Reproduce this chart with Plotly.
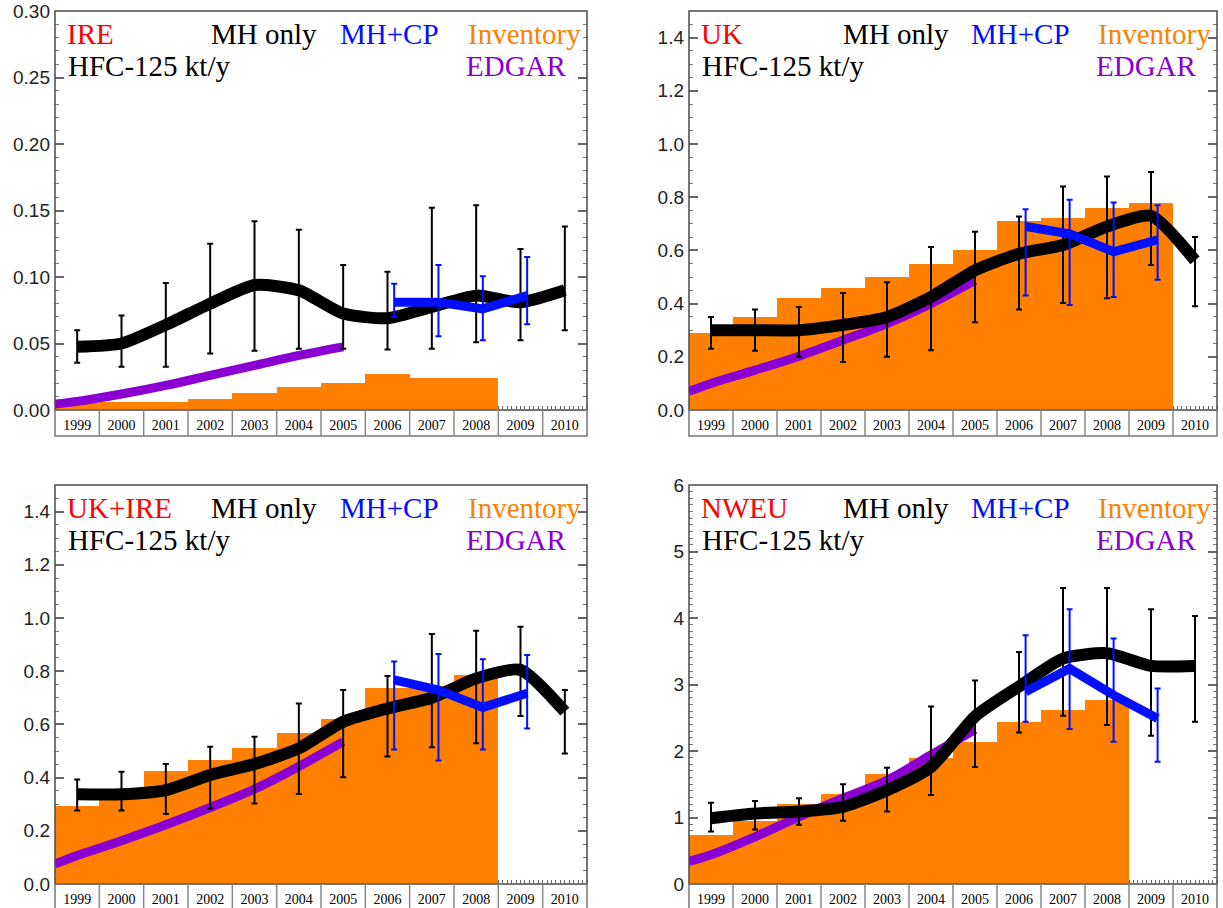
import plotly.graph_objects as go

W, H = 1223, 908

# ---- shared axes data ----
years = list(range(1999, 2011))
year_labels = [str(y) for y in years]
cp_years = [2006, 2007, 2008, 2009]
edgar_years = [1998.5, 1999, 2000, 2001, 2002, 2003, 2004, 2005]

# ---- IRE ----
ire_mh = [0.0475, 0.050, 0.064, 0.080, 0.094, 0.090, 0.0725, 0.069, 0.0775, 0.086, 0.081, 0.090]
ire_mh_hi = [0.060, 0.071, 0.0955, 0.125, 0.142, 0.1355, 0.109, 0.104, 0.152, 0.154, 0.121, 0.138]
ire_mh_lo = [0.0355, 0.0325, 0.0325, 0.0425, 0.0445, 0.046, 0.046, 0.0455, 0.046, 0.051, 0.0525, 0.060]
ire_cp = [0.081, 0.081, 0.076, 0.086]
ire_cp_hi = [0.095, 0.109, 0.1005, 0.115]
ire_cp_lo = [0.070, 0.0555, 0.0525, 0.0645]
ire_inv = [0.005, 0.006, 0.006, 0.008, 0.0125, 0.0175, 0.020, 0.027, 0.0243, 0.0238]
ire_edgar = [0.0045, 0.0065, 0.012, 0.0185, 0.026, 0.0335, 0.041, 0.0475]

# ---- UK ----
uk_mh = [0.30, 0.30, 0.30, 0.32, 0.35, 0.425, 0.525, 0.5875, 0.62, 0.69, 0.73, 0.5625]
uk_mh_hi = [0.35, 0.3775, 0.3875, 0.44, 0.48, 0.6125, 0.67, 0.7275, 0.84, 0.8775, 0.895, 0.65]
uk_mh_lo = [0.23, 0.2225, 0.20, 0.18, 0.20, 0.225, 0.33, 0.3775, 0.4025, 0.42, 0.545, 0.39]
uk_cp = [0.69, 0.6625, 0.595, 0.64]
uk_cp_hi = [0.755, 0.79, 0.78, 0.77]
uk_cp_lo = [0.43, 0.395, 0.425, 0.49]
uk_inv = [0.29, 0.35, 0.42, 0.46, 0.50, 0.55, 0.60, 0.71, 0.72, 0.76, 0.78]
uk_edgar = [0.07, 0.10, 0.15, 0.2025, 0.2625, 0.325, 0.40, 0.4875]

# ---- UK+IRE ----
ukire_mh = [0.337, 0.337, 0.353, 0.41, 0.451, 0.51, 0.61, 0.66, 0.70, 0.773, 0.805, 0.648]
ukire_mh_hi = [0.393, 0.422, 0.451, 0.516, 0.554, 0.679, 0.729, 0.782, 0.94, 0.952, 0.967, 0.729]
ukire_mh_lo = [0.276, 0.276, 0.263, 0.284, 0.303, 0.338, 0.401, 0.479, 0.514, 0.529, 0.632, 0.491]
ukire_cp = [0.767, 0.729, 0.664, 0.717]
ukire_cp_hi = [0.836, 0.865, 0.845, 0.861]
ukire_cp_lo = [0.506, 0.464, 0.506, 0.585]
ukire_inv = [0.295, 0.356, 0.426, 0.468, 0.5125, 0.5675, 0.62, 0.737, 0.744, 0.784]
ukire_edgar = [0.075, 0.107, 0.1625, 0.2225, 0.2875, 0.357, 0.442, 0.535]

# ---- NWEU ----
nweu_mh = [0.99, 1.06, 1.09, 1.16, 1.41, 1.76, 2.52, 2.97, 3.39, 3.47, 3.28, 3.28]
nweu_mh_hi = [1.22, 1.25, 1.29, 1.50, 1.75, 2.67, 3.06, 3.49, 4.45, 4.45, 4.13, 4.03]
nweu_mh_lo = [0.79, 0.82, 0.89, 0.95, 1.09, 1.34, 1.76, 2.28, 2.53, 2.39, 2.23, 2.44]
nweu_cp = [2.89, 3.24, 2.84, 2.49]
nweu_cp_hi = [3.74, 4.13, 3.69, 2.94]
nweu_cp_lo = [2.44, 2.33, 2.14, 1.84]
nweu_inv = [0.74, 0.94, 1.20, 1.36, 1.65, 1.90, 2.13, 2.44, 2.61, 2.77]
nweu_edgar = [0.34, 0.44, 0.71, 1.01, 1.29, 1.56, 1.94, 2.32]

ORANGE = "#FF8000"
PURPLE = "#8A00D2"
BLUE = "#0010FF"
RED = "#FF0000"
FRAME = "#4a4a4a"

# panel: name, data, y range, major step, minor step, tick format, pixel box (left, top, right, bottom)
panels = [
    dict(name="IRE", mh=ire_mh, hi=ire_mh_hi, lo=ire_mh_lo, cp=ire_cp, cphi=ire_cp_hi, cplo=ire_cp_lo,
         inv=ire_inv, edgar=ire_edgar, yr=[0, 0.30], dt=0.05, mdt=0.01, fmt=".2f", box=(55, 11, 587, 410)),
    dict(name="UK", mh=uk_mh, hi=uk_mh_hi, lo=uk_mh_lo, cp=uk_cp, cphi=uk_cp_hi, cplo=uk_cp_lo,
         inv=uk_inv, edgar=uk_edgar, yr=[0, 1.5], dt=0.2, mdt=0.05, fmt=".1f", box=(689, 11, 1217, 410)),
    dict(name="UK+IRE", mh=ukire_mh, hi=ukire_mh_hi, lo=ukire_mh_lo, cp=ukire_cp, cphi=ukire_cp_hi, cplo=ukire_cp_lo,
         inv=ukire_inv, edgar=ukire_edgar, yr=[0, 1.5], dt=0.2, mdt=0.05, fmt=".1f", box=(55, 485, 587, 884)),
    dict(name="NWEU", mh=nweu_mh, hi=nweu_mh_hi, lo=nweu_mh_lo, cp=nweu_cp, cphi=nweu_cp_hi, cplo=nweu_cp_lo,
         inv=nweu_inv, edgar=nweu_edgar, yr=[0, 6], dt=1, mdt=0.1, fmt="d", box=(689, 485, 1217, 884)),
]

fig = go.Figure()
layout = dict(
    width=W, height=H, margin=dict(l=0, r=0, t=0, b=0, autoexpand=False),
    paper_bgcolor="white", plot_bgcolor="white", showlegend=False,
    bargap=0, annotations=[], shapes=[],
)

strip_h = 26  # label strip under each frame, px

for i, p in enumerate(panels, start=1):
    sx = "" if i == 1 else str(i)
    xa, ya = "x" + sx, "y" + sx
    l, t, r, b = p["box"]
    plot_h = b - t

    fig.add_trace(go.Bar(
        x=years[:len(p["inv"])], y=p["inv"], width=1, marker=dict(color=ORANGE, line=dict(width=0)),
        xaxis=xa, yaxis=ya, hoverinfo="skip"))
    fig.add_trace(go.Scatter(
        x=edgar_years, y=p["edgar"], mode="lines", line=dict(color=PURPLE, width=9, shape="spline"),
        xaxis=xa, yaxis=ya))
    fig.add_trace(go.Scatter(
        x=years, y=p["mh"], mode="lines",
        line=dict(color="black", width=12, shape="spline", smoothing=0.6),
        error_y=dict(type="data", symmetric=False,
                     array=[h - v for h, v in zip(p["hi"], p["mh"])],
                     arrayminus=[v - lo for v, lo in zip(p["mh"], p["lo"])],
                     color="black", thickness=2, width=3),
        xaxis=xa, yaxis=ya))
    fig.add_trace(go.Scatter(
        x=[y + 0.15 for y in cp_years], y=p["cp"], mode="lines",
        line=dict(color=BLUE, width=9),
        error_y=dict(type="data", symmetric=False,
                     array=[h - v for h, v in zip(p["cphi"], p["cp"])],
                     arrayminus=[v - lo for v, lo in zip(p["cp"], p["cplo"])],
                     color=BLUE, thickness=2, width=3),
        xaxis=xa, yaxis=ya))

    xkey = "xaxis" + sx
    ykey = "yaxis" + sx
    layout[xkey] = dict(
        domain=[l / W, r / W], anchor=ya, range=[1998.5, 2010.5], automargin=False,
        tickmode="array", tickvals=years, ticktext=year_labels,
        ticks="", showgrid=False, zeroline=False, showline=False, mirror="ticks",
        tickfont=dict(family="Liberation Serif", size=14, color="black"),
        ticklabelstandoff=5, layer="below traces",
        minor=dict(tick0=1998.5, dtick=0.1, ticks="inside", ticklen=4, tickcolor="#666", tickwidth=1),
    )
    layout[ykey] = dict(
        domain=[1 - b / H, 1 - t / H], anchor=xa, range=p["yr"], automargin=False,
        dtick=p["dt"], tick0=0, tickformat=p["fmt"],
        ticks="inside", ticklen=9, tickwidth=1.5, tickcolor="#666",
        showgrid=False, zeroline=False, showline=False, mirror="ticks",
        tickfont=dict(family="Liberation Sans", size=19, color="#222"),
        ticklabelstandoff=4, layer="below traces",
        minor=dict(dtick=p["mdt"], ticks="inside", ticklen=4, tickcolor="#777", tickwidth=1),
    )

    xd, yd = xa + " domain", ya + " domain"
    # frame
    layout["shapes"].append(dict(type="rect", xref=xd, yref=yd, x0=0, x1=1, y0=0, y1=1,
                                 line=dict(color=FRAME, width=1.5), layer="above"))
    # year label strip
    sh = strip_h / plot_h
    layout["shapes"].append(dict(type="rect", xref=xd, yref=yd, x0=0, x1=1, y0=-sh, y1=0,
                                 line=dict(color="#777", width=1.5), layer="above"))
    n = len(years)
    for k in range(1, n):
        layout["shapes"].append(dict(type="line", xref=xd, yref=yd, x0=k / n, x1=k / n, y0=-sh, y1=0,
                                     line=dict(color="#888", width=1.5), layer="above"))

    # in-panel titles / key
    def txt(s, x, y, color, anchor="center"):
        layout["annotations"].append(dict(
            text=s, xref=xd, yref=yd, x=x, y=y, xanchor=anchor, yanchor="middle", showarrow=False,
            font=dict(family="Liberation Serif", size=29, color=color)))

    txt(p["name"], (65 - 55) / 532, 0.942, RED, "left")
    txt("MH only", (264 - 55) / 532, 0.942, "black")
    txt("MH+CP", (389 - 55) / 532, 0.942, BLUE)
    txt("Inventory", (524 - 55) / 532, 0.942, ORANGE)
    txt("HFC-125 kt/y", (66 - 55) / 532, 0.862, "black", "left")
    txt("EDGAR", (516 - 55) / 532, 0.862, PURPLE)

fig.update_layout(**layout)
fig.write_html("out.html")
